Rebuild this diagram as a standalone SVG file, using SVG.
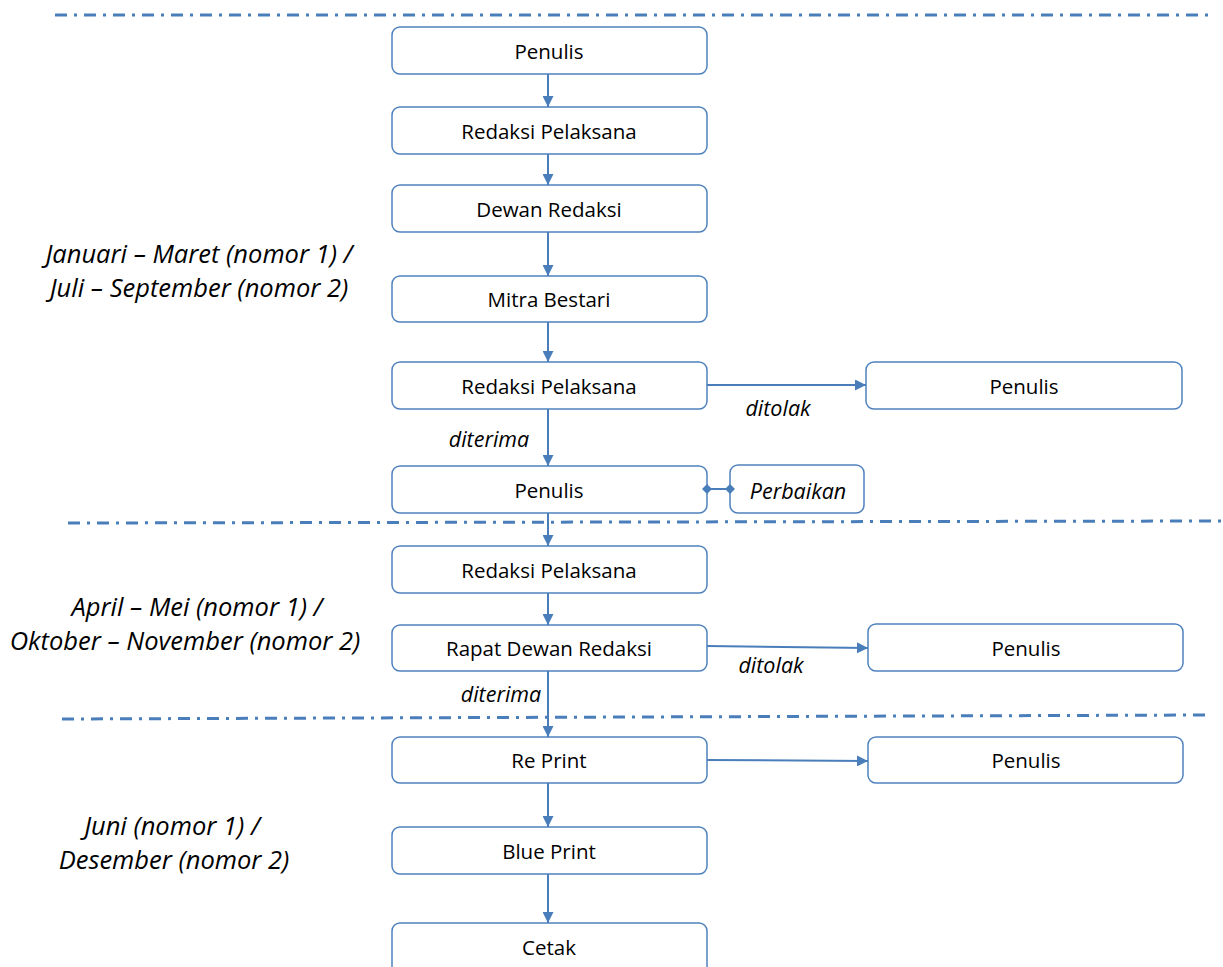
<svg xmlns="http://www.w3.org/2000/svg" width="1223" height="967" viewBox="0 0 1223 967">
<style>
.box{fill:#fff;stroke:#4f81bd;stroke-width:1.5}
.t{font-family:"Open Sans","Liberation Sans",sans-serif;font-size:20.5px;fill:#000;text-anchor:middle;dominant-baseline:central}
.lbl{font-family:"Open Sans","Liberation Sans",sans-serif;font-size:21.5px;font-style:italic;fill:#000;text-anchor:middle;dominant-baseline:central}
.side{font-family:"Open Sans","Liberation Sans",sans-serif;font-size:25.5px;font-style:italic;fill:#000;text-anchor:middle;dominant-baseline:central}
.c{stroke:#4a7ebb;stroke-width:2;fill:none}
.dm{fill:#4a7ebb}
.dd{stroke:#4a7ebb;stroke-width:3;fill:none;stroke-dasharray:12 7 3 7}
</style>
<defs>
<marker id="ah" viewBox="0 0 10 10" refX="10" refY="5" markerWidth="5.5" markerHeight="5.5" orient="auto" markerUnits="strokeWidth">
<path d="M0,0 L10,5 L0,10 z" fill="#4a7ebb"/>
</marker>
</defs>
<g id="separators">
<line class="dd" x1="55" y1="15" x2="1212" y2="15"/>
<line class="dd" x1="68" y1="523" x2="1222" y2="521"/>
<line class="dd" x1="62" y1="719" x2="1206" y2="715"/>
</g>
<g id="side-labels">
<text class="side" x="199" y="253">Januari – Maret (nomor 1) /</text>
<text class="side" x="199" y="287">Juli – September (nomor 2)</text>
<text class="side" x="197" y="606">April – Mei (nomor 1) /</text>
<text class="side" x="185" y="640">Oktober – November (nomor 2)</text>
<text class="side" x="172" y="825">Juni (nomor 1) /</text>
<text class="side" x="174" y="859">Desember (nomor 2)</text>
</g>
<g id="n1"><rect class="box" x="392" y="27" width="315" height="47" rx="8"/><text class="t" x="549" y="51">Penulis</text></g>
<g id="n2"><rect class="box" x="392" y="107" width="315" height="47" rx="8"/><text class="t" x="549" y="131">Redaksi Pelaksana</text></g>
<g id="n3"><rect class="box" x="392" y="185" width="315" height="47" rx="8"/><text class="t" x="549" y="209">Dewan Redaksi</text></g>
<g id="n4"><rect class="box" x="392" y="276" width="315" height="46" rx="8"/><text class="t" x="549" y="299">Mitra Bestari</text></g>
<g id="n5"><rect class="box" x="392" y="362" width="315" height="47" rx="8"/><text class="t" x="549" y="386">Redaksi Pelaksana</text></g>
<g id="n5r"><rect class="box" x="866" y="362" width="316" height="47" rx="8"/><text class="t" x="1024" y="386">Penulis</text></g>
<g id="n6"><rect class="box" x="392" y="466" width="315" height="47" rx="8"/><text class="t" x="549" y="490">Penulis</text></g>
<g id="n6r"><rect class="box" x="730" y="465" width="134" height="48" rx="8"/><text class="lbl" x="798" y="490">Perbaikan</text></g>
<g id="n7"><rect class="box" x="392" y="546" width="315" height="47" rx="8"/><text class="t" x="549" y="570">Redaksi Pelaksana</text></g>
<g id="n8"><rect class="box" x="392" y="625" width="315" height="46" rx="8"/><text class="t" x="549" y="648">Rapat Dewan Redaksi</text></g>
<g id="n8r"><rect class="box" x="868" y="624" width="315" height="47" rx="8"/><text class="t" x="1026" y="648">Penulis</text></g>
<g id="n9"><rect class="box" x="392" y="737" width="315" height="46" rx="8"/><text class="t" x="549" y="760">Re Print</text></g>
<g id="n9r"><rect class="box" x="868" y="737" width="315" height="46" rx="8"/><text class="t" x="1026" y="760">Penulis</text></g>
<g id="n10"><rect class="box" x="392" y="827" width="315" height="47" rx="8"/><text class="t" x="549" y="851">Blue Print</text></g>
<g id="n11"><rect class="box" x="392" y="923" width="315" height="60" rx="8"/><text class="t" x="549" y="947">Cetak</text></g>
<g id="connectors">
<line class="c" x1="548" y1="74" x2="548" y2="107" marker-end="url(#ah)"/>
<line class="c" x1="548" y1="154" x2="548" y2="185" marker-end="url(#ah)"/>
<line class="c" x1="548" y1="232" x2="548" y2="276" marker-end="url(#ah)"/>
<line class="c" x1="548" y1="322" x2="548" y2="362" marker-end="url(#ah)"/>
<line class="c" x1="707" y1="385" x2="866" y2="385" marker-end="url(#ah)"/>
<line class="c" x1="548" y1="409" x2="548" y2="466" marker-end="url(#ah)"/>
<line class="c" x1="707" y1="489" x2="730" y2="489"/>
<path class="dm" d="M702,489 L707,484 L712,489 L707,494 z"/>
<path class="dm" d="M725,489 L730,484 L735,489 L730,494 z"/>
<line class="c" x1="548" y1="513" x2="548" y2="546" marker-end="url(#ah)"/>
<line class="c" x1="548" y1="593" x2="548" y2="625" marker-end="url(#ah)"/>
<line class="c" x1="707" y1="646" x2="868" y2="648" marker-end="url(#ah)"/>
<line class="c" x1="548" y1="671" x2="548" y2="737" marker-end="url(#ah)"/>
<line class="c" x1="707" y1="760" x2="868" y2="761" marker-end="url(#ah)"/>
<line class="c" x1="548" y1="783" x2="548" y2="827" marker-end="url(#ah)"/>
<line class="c" x1="548" y1="874" x2="548" y2="923" marker-end="url(#ah)"/>
<text class="lbl" x="778" y="407">ditolak</text>
<text class="lbl" x="489" y="438">diterima</text>
<text class="lbl" x="771" y="664">ditolak</text>
<text class="lbl" x="501" y="693">diterima</text>
</g>
</svg>
